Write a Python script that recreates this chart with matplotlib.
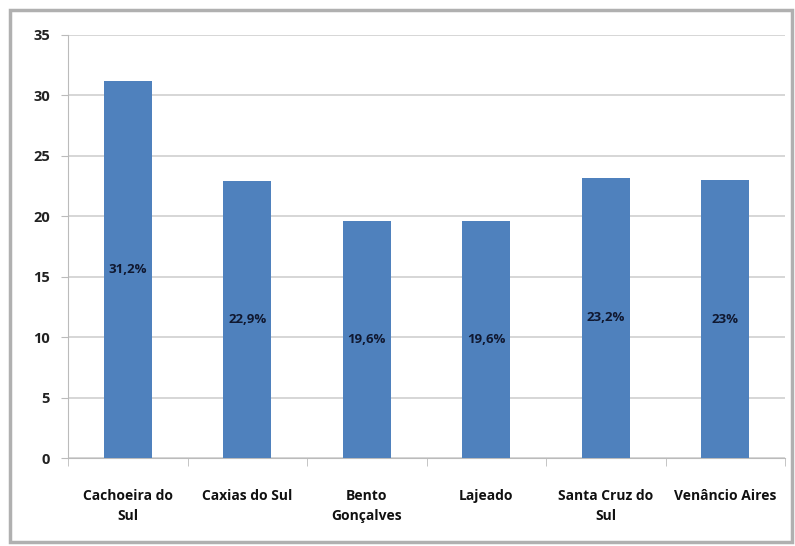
import matplotlib
matplotlib.use("Agg")
import matplotlib.pyplot as plt
from matplotlib.patches import Rectangle

categories = ["Cachoeira do\nSul", "Caxias do Sul", "Bento\nGonçalves", "Lajeado",
              "Santa Cruz do\nSul", "Venâncio Aires"]
values = [31.2, 22.9, 19.6, 19.6, 23.2, 23.0]
labels = ["31,2%", "22,9%", "19,6%", "19,6%", "23,2%", "23%"]
yticks = [0, 5, 10, 15, 20, 25, 30, 35]

plt.rcParams['font.family'] = ['Open Sans', 'DejaVu Sans']

fig = plt.figure(figsize=(7.95, 5.46), dpi=100)
fig.patch.set_facecolor("white")

# outer chart frame
fig.add_artist(Rectangle((10/795, 1-542/546), 782/795, 532/546, transform=fig.transFigure,
                         fill=False, edgecolor="#b0b0b0", linewidth=2.5))

ax = fig.add_axes([68/795, 1-458/546, 717/795, 423/546])
x = list(range(len(categories)))
ax.bar(x, values, width=0.4, color="#4f81bd", zorder=3)
for xi, v, lab in zip(x, values, labels):
    ax.text(xi, v/2, lab, ha="center", va="center", fontsize=9.5, fontweight="bold",
            color="#101830", zorder=4)

ax.set_xlim(-0.5, len(categories)-0.5)
ax.set_ylim(0, 35)
ax.set_yticks(yticks)
ax.set_yticklabels([str(t) for t in yticks], fontsize=10.5, fontweight="bold", color="#222222")
ax.set_xticks(x)
ax.set_xticklabels(categories, fontsize=10, fontweight="bold", color="#111111", linespacing=1.6)
ax.tick_params(axis="x", length=0, pad=22)
ax.set_xticks([i + 0.5 for i in range(-1, len(categories))], minor=True)
ax.tick_params(axis="x", which="minor", length=6, color="#bbbbbb")
ax.tick_params(axis="y", length=5, color="#bbbbbb", pad=8)
ax.grid(axis="y", color="#d0d0d0", linewidth=1.2, zorder=0)
for s in ["top", "right"]:
    ax.spines[s].set_visible(False)
ax.spines["left"].set_color("#bbbbbb")
ax.spines["bottom"].set_color("#bbbbbb")

fig.savefig("out.png", dpi=100)
